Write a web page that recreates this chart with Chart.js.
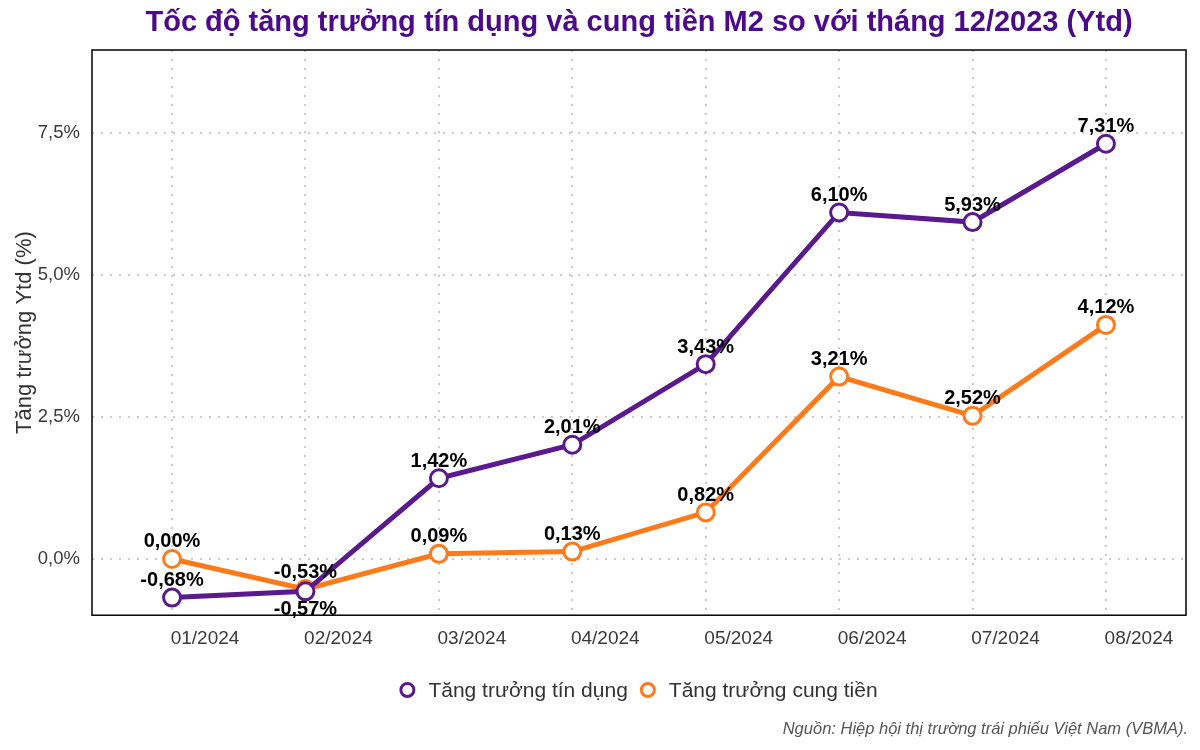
<!DOCTYPE html>
<html>
<head>
<meta charset="utf-8">
<script src="https://cdn.jsdelivr.net/npm/chart.js@4/dist/chart.umd.min.js"></script>
<style>
  html, body { margin: 0; padding: 0; background: #fff; }
  #wrap { width: 1200px; height: 750px; }
</style>
</head>
<body>
<div id="wrap"><canvas id="chart" width="1200" height="750"></canvas></div>
<script>
const months = ["01/2024", "02/2024", "03/2024", "04/2024", "05/2024", "06/2024", "07/2024", "08/2024"];
const creditGrowth = [-0.68, -0.57, 1.42, 2.01, 3.43, 6.10, 5.93, 7.31];
const m2Growth = [0.00, -0.53, 0.09, 0.13, 0.82, 3.21, 2.52, 4.12];
const yTicks = [0, 2.5, 5, 7.5];

const TITLE = "Tốc độ tăng trưởng tín dụng và cung tiền M2 so với tháng 12/2023 (Ytd)";
const SOURCE = "Nguồn: Hiệp hội thị trường trái phiếu Việt Nam (VBMA).";

const PURPLE = "#5a1a8e";
const ORANGE = "#ff7a1a";
const FONT = "'Liberation Sans', Arial, sans-serif";

function pct(v, digits) {
  return v.toFixed(digits).replace(".", ",") + "%";
}

function toPoints(arr) {
  return arr.map((v, i) => ({ x: i, y: v }));
}

// black frame around the plot area
const framePlugin = {
  id: "frame",
  afterDraw(chart) {
    const { ctx, chartArea: a } = chart;
    ctx.save();
    ctx.strokeStyle = "#000";
    ctx.lineWidth = 1.5;
    ctx.strokeRect(a.left, a.top, a.right - a.left, a.bottom - a.top);
    ctx.restore();
  }
};

// title and legend centred on the panel (like ggplot), source at bottom right
const decorations = {
  id: "decorations",
  afterDraw(chart) {
    const { ctx, chartArea: a } = chart;
    const cx = (a.left + a.right) / 2;
    ctx.save();

    ctx.font = "bold 29px " + FONT;
    ctx.fillStyle = "#4b0a8a";
    ctx.textAlign = "center";
    ctx.textBaseline = "middle";
    ctx.fillText(TITLE, cx, 23);

    // legend
    ctx.font = "21px " + FONT;
    const items = chart.data.datasets.map(ds => ({
      text: ds.label,
      color: ds.borderColor,
      w: ctx.measureText(ds.label).width
    }));
    const marker = 14, gap = 14, itemGap = 13;
    let total = items.reduce((s, it) => s + marker + gap + it.w, 0) + itemGap * (items.length - 1);
    let x = cx - total / 2;
    const ly = 690;
    items.forEach(it => {
      ctx.beginPath();
      ctx.arc(x + marker / 2, ly, marker / 2 - 0.5, 0, Math.PI * 2);
      ctx.fillStyle = "#fff";
      ctx.fill();
      ctx.lineWidth = 3;
      ctx.strokeStyle = it.color;
      ctx.stroke();
      ctx.fillStyle = "#333";
      ctx.textAlign = "left";
      ctx.textBaseline = "middle";
      ctx.fillText(it.text, x + marker + gap, ly + 1);
      x += marker + gap + it.w + itemGap;
    });

    ctx.font = "italic 16.5px " + FONT;
    ctx.fillStyle = "#555";
    ctx.textAlign = "right";
    ctx.fillText(SOURCE, 1188, 729);
    ctx.restore();
  }
};

// value labels above (or below) each point
const valueLabels = {
  id: "valueLabels",
  afterDatasetsDraw(chart) {
    const { ctx } = chart;
    const series = [creditGrowth, m2Growth];
    ctx.save();
    ctx.font = "bold 20px " + FONT;
    ctx.fillStyle = "#000";
    ctx.textAlign = "center";
    chart.data.datasets.forEach((ds, di) => {
      const meta = chart.getDatasetMeta(di);
      const own = series[di];
      const other = series[1 - di];
      meta.data.forEach((pt, i) => {
        const below = own[i] < other[i] && Math.abs(own[i] - other[i]) < 0.3;
        if (below) {
          ctx.textBaseline = "top";
          ctx.fillText(pct(own[i], 2), pt.x, pt.y + 8);
        } else {
          ctx.textBaseline = "bottom";
          ctx.fillText(pct(own[i], 2), pt.x, pt.y - 7);
        }
      });
    });
    ctx.restore();
  }
};

new Chart(document.getElementById("chart"), {
  type: "line",
  data: {
    datasets: [
      {
        label: "Tăng trưởng tín dụng",
        data: toPoints(creditGrowth),
        borderColor: PURPLE,
        backgroundColor: "#fff",
        borderWidth: 5,
        pointRadius: 8.5,
        pointBorderWidth: 3,
        pointBackgroundColor: "#fff",
        pointBorderColor: PURPLE
      },
      {
        label: "Tăng trưởng cung tiền",
        data: toPoints(m2Growth),
        borderColor: ORANGE,
        backgroundColor: "#fff",
        borderWidth: 5,
        pointRadius: 8.5,
        pointBorderWidth: 3,
        pointBackgroundColor: "#fff",
        pointBorderColor: ORANGE
      }
    ]
  },
  options: {
    responsive: false,
    animation: false,
    layout: { padding: { left: 12, right: 14, top: 50, bottom: 88 } },
    plugins: {
      legend: { display: false },
      title: { display: false },
      tooltip: { enabled: false }
    },
    scales: {
      x: {
        type: "linear",
        min: -0.6,
        max: 7.6,
        afterBuildTicks(axis) {
          axis.ticks = months.map((m, i) => ({ value: i }));
        },
        ticks: {
          callback: v => months[v],
          color: "#3a3a3a",
          font: { family: FONT, size: 19 },
          labelOffset: 33,
          maxRotation: 0,
          padding: 12
        },
        grid: {
          color: "#cccccc",
          lineWidth: 2,
          drawTicks: false
        },
        border: { display: false, dash: [2, 7] }
      },
      y: {
        min: -0.99,
        max: 8.96,
        afterBuildTicks(axis) {
          axis.ticks = yTicks.map(v => ({ value: v }));
        },
        afterFit(axis) {
          axis.width = 80;
        },
        ticks: {
          callback: v => pct(v, 1),
          color: "#3a3a3a",
          font: { family: FONT, size: 18.5 },
          padding: 12
        },
        grid: {
          color: "#cccccc",
          lineWidth: 2,
          drawTicks: false
        },
        border: { display: false, dash: [2, 7] },
        title: {
          display: true,
          text: "Tăng trưởng Ytd (%)",
          color: "#333",
          font: { family: FONT, size: 22 },
          padding: { top: 0, bottom: 0 }
        }
      }
    }
  },
  plugins: [framePlugin, valueLabels, decorations]
});
</script>
</body>
</html>
